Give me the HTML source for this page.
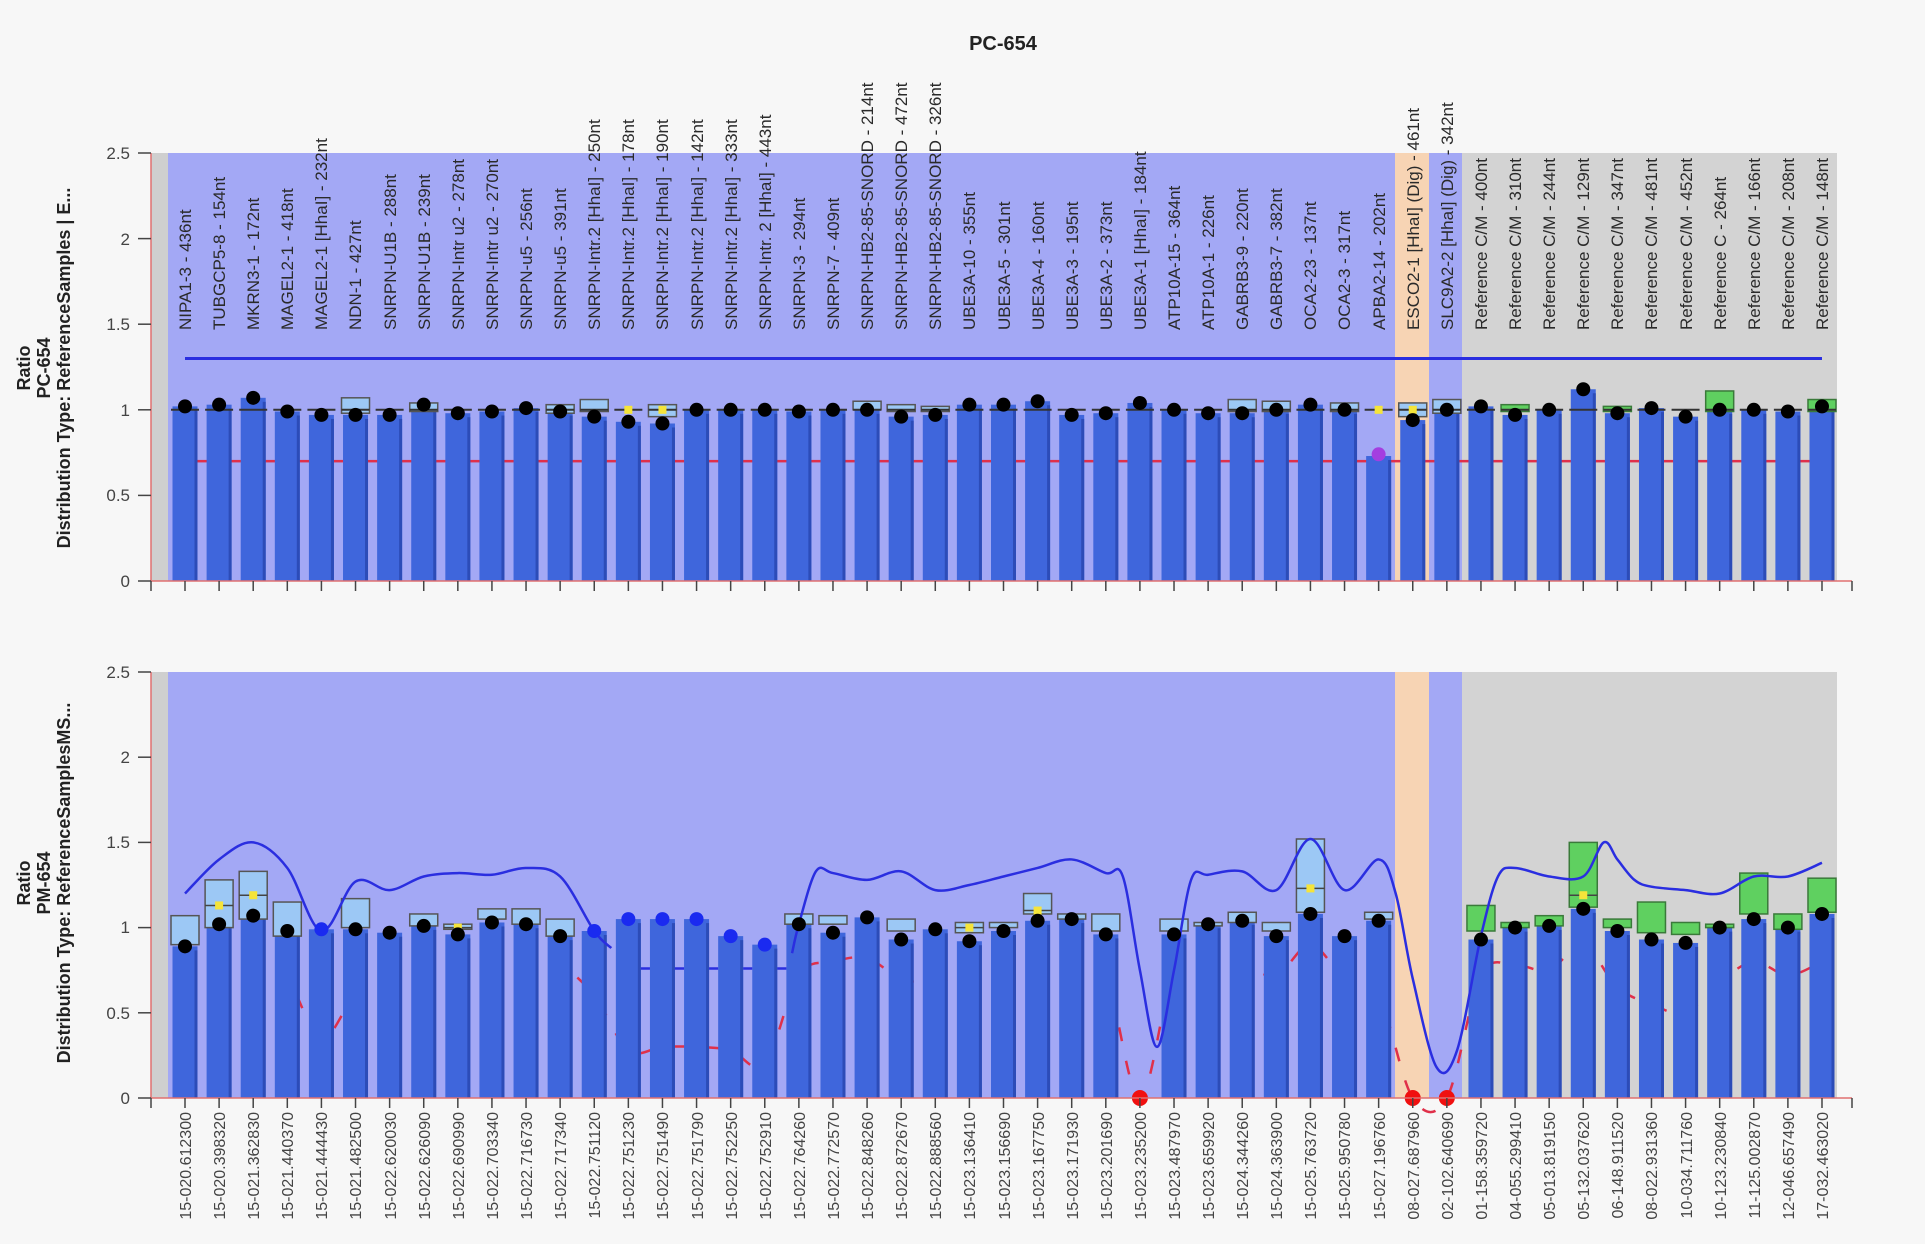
<!DOCTYPE html>
<html><head><meta charset="utf-8"><style>
html,body{margin:0;padding:0;background:#f7f7f7;}
svg{display:block;font-family:"Liberation Sans",sans-serif;}
.tl{font-size:17px;fill:#2a2a2a;}
.bl{font-size:16px;fill:#444;}
.tk{font-size:17px;fill:#444;}
.ax{font-size:18px;font-weight:bold;fill:#222;}
</style></head><body>
<svg id="s" width="1925" height="1244" viewBox="0 0 1925 1244" xmlns="http://www.w3.org/2000/svg">
<rect width="1925" height="1244" fill="#f7f7f7"/>
<g id="shapes"></g>
<text x="1003" y="50" text-anchor="middle" style="font-size:20px;font-weight:bold;fill:#222">PC-654</text>
<g transform="translate(30,368) rotate(-90)"><text class="ax" text-anchor="middle" y="0">Ratio</text></g>
<g transform="translate(50,368) rotate(-90)"><text class="ax" text-anchor="middle" y="0">PC-654</text></g>
<g transform="translate(70,368) rotate(-90)"><text class="ax" text-anchor="middle" y="0">Distribution  Type:  ReferenceSamples | E...</text></g>
<g transform="translate(30,883) rotate(-90)"><text class="ax" text-anchor="middle" y="0">Ratio</text></g>
<g transform="translate(50,883) rotate(-90)"><text class="ax" text-anchor="middle" y="0">PM-654</text></g>
<g transform="translate(70,883) rotate(-90)"><text class="ax" text-anchor="middle" y="0">Distribution  Type:  ReferenceSamplesMS...</text></g>
<g class="tk" text-anchor="end">
<text x="130" y="159">2.5</text><text x="130" y="245">2</text><text x="130" y="330">1.5</text><text x="130" y="416">1</text><text x="130" y="501">0.5</text><text x="130" y="587">0</text>
<text x="130" y="678">2.5</text><text x="130" y="763">2</text><text x="130" y="848">1.5</text><text x="130" y="933">1</text><text x="130" y="1019">0.5</text><text x="130" y="1104">0</text>
</g>
<g class="tl">
<text transform="translate(191,330) rotate(-90)">NIPA1-3 - 436nt</text>
<text transform="translate(225,330) rotate(-90)">TUBGCP5-8 - 154nt</text>
<text transform="translate(259,330) rotate(-90)">MKRN3-1 - 172nt</text>
<text transform="translate(293,330) rotate(-90)">MAGEL2-1 - 418nt</text>
<text transform="translate(327,330) rotate(-90)">MAGEL2-1 [HhaI] - 232nt</text>
<text transform="translate(361,330) rotate(-90)">NDN-1 - 427nt</text>
<text transform="translate(396,330) rotate(-90)">SNRPN-U1B - 288nt</text>
<text transform="translate(430,330) rotate(-90)">SNRPN-U1B - 239nt</text>
<text transform="translate(464,330) rotate(-90)">SNRPN-Intr u2 - 278nt</text>
<text transform="translate(498,330) rotate(-90)">SNRPN-Intr u2 - 270nt</text>
<text transform="translate(532,330) rotate(-90)">SNRPN-u5 - 256nt</text>
<text transform="translate(566,330) rotate(-90)">SNRPN-u5 - 391nt</text>
<text transform="translate(600,330) rotate(-90)">SNRPN-Intr.2 [HhaI] - 250nt</text>
<text transform="translate(634,330) rotate(-90)">SNRPN-Intr.2 [HhaI] - 178nt</text>
<text transform="translate(668,330) rotate(-90)">SNRPN-Intr.2 [HhaI] - 190nt</text>
<text transform="translate(703,330) rotate(-90)">SNRPN-Intr.2 [HhaI] - 142nt</text>
<text transform="translate(737,330) rotate(-90)">SNRPN-Intr.2 [HhaI] - 333nt</text>
<text transform="translate(771,330) rotate(-90)">SNRPN-Intr. 2 [HhaI] - 443nt</text>
<text transform="translate(805,330) rotate(-90)">SNRPN-3 - 294nt</text>
<text transform="translate(839,330) rotate(-90)">SNRPN-7 - 409nt</text>
<text transform="translate(873,330) rotate(-90)">SNRPN-HB2-85-SNORD - 214nt</text>
<text transform="translate(907,330) rotate(-90)">SNRPN-HB2-85-SNORD - 472nt</text>
<text transform="translate(941,330) rotate(-90)">SNRPN-HB2-85-SNORD - 326nt</text>
<text transform="translate(975,330) rotate(-90)">UBE3A-10 - 355nt</text>
<text transform="translate(1010,330) rotate(-90)">UBE3A-5 - 301nt</text>
<text transform="translate(1044,330) rotate(-90)">UBE3A-4 - 160nt</text>
<text transform="translate(1078,330) rotate(-90)">UBE3A-3 - 195nt</text>
<text transform="translate(1112,330) rotate(-90)">UBE3A-2 - 373nt</text>
<text transform="translate(1146,330) rotate(-90)">UBE3A-1 [HhaI] - 184nt</text>
<text transform="translate(1180,330) rotate(-90)">ATP10A-15 - 364nt</text>
<text transform="translate(1214,330) rotate(-90)">ATP10A-1 - 226nt</text>
<text transform="translate(1248,330) rotate(-90)">GABRB3-9 - 220nt</text>
<text transform="translate(1282,330) rotate(-90)">GABRB3-7 - 382nt</text>
<text transform="translate(1316,330) rotate(-90)">OCA2-23 - 137nt</text>
<text transform="translate(1350,330) rotate(-90)">OCA2-3 - 317nt</text>
<text transform="translate(1385,330) rotate(-90)">APBA2-14 - 202nt</text>
<text transform="translate(1419,330) rotate(-90)">ESCO2-1 [HhaI] (Dig) - 461nt</text>
<text transform="translate(1453,330) rotate(-90)">SLC9A2-2 [HhaI] (Dig) - 342nt</text>
<text transform="translate(1487,330) rotate(-90)">Reference C/M - 400nt</text>
<text transform="translate(1521,330) rotate(-90)">Reference C/M - 310nt</text>
<text transform="translate(1555,330) rotate(-90)">Reference C/M - 244nt</text>
<text transform="translate(1589,330) rotate(-90)">Reference C/M - 129nt</text>
<text transform="translate(1623,330) rotate(-90)">Reference C/M - 347nt</text>
<text transform="translate(1657,330) rotate(-90)">Reference C/M - 481nt</text>
<text transform="translate(1692,330) rotate(-90)">Reference C/M - 452nt</text>
<text transform="translate(1726,330) rotate(-90)">Reference C - 264nt</text>
<text transform="translate(1760,330) rotate(-90)">Reference C/M - 166nt</text>
<text transform="translate(1794,330) rotate(-90)">Reference C/M - 208nt</text>
<text transform="translate(1828,330) rotate(-90)">Reference C/M - 148nt</text>
</g>
<g class="bl" text-anchor="end">
<text transform="translate(191,1112) rotate(-90)">15-020.612300</text>
<text transform="translate(225,1112) rotate(-90)">15-020.398320</text>
<text transform="translate(259,1112) rotate(-90)">15-021.362830</text>
<text transform="translate(293,1112) rotate(-90)">15-021.440370</text>
<text transform="translate(327,1112) rotate(-90)">15-021.444430</text>
<text transform="translate(361,1112) rotate(-90)">15-021.482500</text>
<text transform="translate(396,1112) rotate(-90)">15-022.620030</text>
<text transform="translate(430,1112) rotate(-90)">15-022.626090</text>
<text transform="translate(464,1112) rotate(-90)">15-022.690990</text>
<text transform="translate(498,1112) rotate(-90)">15-022.703340</text>
<text transform="translate(532,1112) rotate(-90)">15-022.716730</text>
<text transform="translate(566,1112) rotate(-90)">15-022.717340</text>
<text transform="translate(600,1112) rotate(-90)">15-022.751120</text>
<text transform="translate(634,1112) rotate(-90)">15-022.751230</text>
<text transform="translate(668,1112) rotate(-90)">15-022.751490</text>
<text transform="translate(703,1112) rotate(-90)">15-022.751790</text>
<text transform="translate(737,1112) rotate(-90)">15-022.752250</text>
<text transform="translate(771,1112) rotate(-90)">15-022.752910</text>
<text transform="translate(805,1112) rotate(-90)">15-022.764260</text>
<text transform="translate(839,1112) rotate(-90)">15-022.772570</text>
<text transform="translate(873,1112) rotate(-90)">15-022.848260</text>
<text transform="translate(907,1112) rotate(-90)">15-022.872670</text>
<text transform="translate(941,1112) rotate(-90)">15-022.888560</text>
<text transform="translate(975,1112) rotate(-90)">15-023.136410</text>
<text transform="translate(1010,1112) rotate(-90)">15-023.156690</text>
<text transform="translate(1044,1112) rotate(-90)">15-023.167750</text>
<text transform="translate(1078,1112) rotate(-90)">15-023.171930</text>
<text transform="translate(1112,1112) rotate(-90)">15-023.201690</text>
<text transform="translate(1146,1112) rotate(-90)">15-023.235200</text>
<text transform="translate(1180,1112) rotate(-90)">15-023.487970</text>
<text transform="translate(1214,1112) rotate(-90)">15-023.659920</text>
<text transform="translate(1248,1112) rotate(-90)">15-024.344260</text>
<text transform="translate(1282,1112) rotate(-90)">15-024.363900</text>
<text transform="translate(1316,1112) rotate(-90)">15-025.763720</text>
<text transform="translate(1350,1112) rotate(-90)">15-025.950780</text>
<text transform="translate(1385,1112) rotate(-90)">15-027.196760</text>
<text transform="translate(1419,1112) rotate(-90)">08-027.687960</text>
<text transform="translate(1453,1112) rotate(-90)">02-102.640690</text>
<text transform="translate(1487,1112) rotate(-90)">01-158.359720</text>
<text transform="translate(1521,1112) rotate(-90)">04-055.299410</text>
<text transform="translate(1555,1112) rotate(-90)">05-013.819150</text>
<text transform="translate(1589,1112) rotate(-90)">05-132.037620</text>
<text transform="translate(1623,1112) rotate(-90)">06-148.911520</text>
<text transform="translate(1657,1112) rotate(-90)">08-022.931360</text>
<text transform="translate(1692,1112) rotate(-90)">10-034.711760</text>
<text transform="translate(1726,1112) rotate(-90)">10-123.230840</text>
<text transform="translate(1760,1112) rotate(-90)">11-125.002870</text>
<text transform="translate(1794,1112) rotate(-90)">12-046.657490</text>
<text transform="translate(1828,1112) rotate(-90)">17-032.463020</text>
</g>
</svg>
<script>
(function(){
var NS="http://www.w3.org/2000/svg",G=document.getElementById("shapes");
function el(t,a){var e=document.createElementNS(NS,t);for(var k in a)e.setAttribute(k,a[k]);G.appendChild(e);return e;}
function X(i){return 185+34.104*i;}
var W=25;
var P=[{y0:581,s:171.2,top:153},{y0:1098,s:170.4,top:672}];
P.forEach(function(p){
 el("rect",{x:151,y:p.top,width:17,height:p.y0-p.top,fill:"#cfcfcf"});
 el("rect",{x:168,y:p.top,width:1227,height:p.y0-p.top,fill:"#a3a8f5"});
 el("rect",{x:1395,y:p.top,width:34,height:p.y0-p.top,fill:"#f7d4b4"});
 el("rect",{x:1429,y:p.top,width:33,height:p.y0-p.top,fill:"#a3a8f5"});
 el("rect",{x:1462,y:p.top,width:375,height:p.y0-p.top,fill:"#d3d3d3"});
});
function catmull(pts){var d="M"+pts[0][0]+","+pts[0][1];for(var i=0;i<pts.length-1;i++){var p0=pts[i-1]||pts[i],p1=pts[i],p2=pts[i+1],p3=pts[i+2]||p2;
 d+=" C"+(p1[0]+(p2[0]-p0[0])/6)+","+(p1[1]+(p2[1]-p0[1])/6)+" "+(p2[0]-(p3[0]-p1[0])/6)+","+(p2[1]-(p3[1]-p1[1])/6)+" "+p2[0]+","+p2[1];}return d;}
var tp=P[0];function YT(v){return tp.y0-v*tp.s;}
var td=[1.02,1.03,1.07,0.99,0.97,0.97,0.97,1.03,0.98,0.99,1.01,0.99,0.96,0.93,0.92,1.0,1.0,1.0,0.99,1.0,1.0,0.96,0.97,1.03,1.03,1.05,0.97,0.98,1.04,1.0,0.98,0.98,1.0,1.03,1.0,0.74,0.94,1.0,1.02,0.97,1.0,1.12,0.98,1.01,0.96,1.0,1.0,0.99,1.02];
var tbox={5:[0.98,1.07],7:[0.99,1.04],11:[0.98,1.03],12:[0.99,1.06],14:[0.96,1.03],20:[1.0,1.05],21:[0.99,1.03],22:[0.99,1.02],32:[0.99,1.05],31:[0.99,1.06],34:[0.99,1.04],36:[0.96,1.04],37:[0.98,1.06]};
var tgreen={39:[0.99,1.03],42:[0.99,1.02],45:[0.99,1.11],48:[0.99,1.06]};
for(var i=0;i<48;i++){var gx=X(i)+17.05;el("line",{x1:gx-5,y1:YT(0.7),x2:gx+5,y2:YT(0.7),stroke:"#e0304a","stroke-width":2.5});}
for(var i=0;i<49;i++){var v=(i==35?0.73:td[i]);
 el("rect",{x:X(i)-W/2,y:YT(v),width:W,height:YT(0)-YT(v),fill:"#3f66dc"});
 el("rect",{x:X(i)+W/2-3,y:YT(v)+4,width:3,height:YT(0)-YT(v)-4,fill:"#2c4cb8"});}
for(var k in tbox){var b=tbox[k];el("rect",{x:X(+k)-14,y:YT(b[1]),width:28,height:YT(b[0])-YT(b[1]),fill:"#9cc8f5",stroke:"#555","stroke-width":1.5});}
for(var k in tgreen){var b=tgreen[k];el("rect",{x:X(+k)-14,y:YT(b[1]),width:28,height:YT(b[0])-YT(b[1]),fill:"#5fd060",stroke:"#3a7a3a","stroke-width":1.5});}
for(var i=0;i<49;i++){el("line",{x1:X(i)-14,y1:YT(1.0),x2:X(i)+14,y2:YT(1.0),stroke:"#333","stroke-width":2});}
el("line",{x1:X(0),y1:YT(1.3),x2:X(48),y2:YT(1.3),stroke:"#2a2ee0","stroke-width":3});
[13,14,35,36].forEach(function(i){el("rect",{x:X(i)-4,y:YT(1.0)-4,width:8,height:8,fill:"#f5e43a"});});
for(var i=0;i<49;i++){ if(i==35) el("circle",{cx:X(i),cy:YT(0.74),r:7,fill:"#a43ee0"}); else el("circle",{cx:X(i),cy:YT(td[i]),r:7,fill:"#000"});}
var bp=P[1];function YB(v){return bp.y0-v*bp.s;}
var bd=[0.89,1.02,1.07,0.98,0.99,0.99,0.97,1.01,0.96,1.03,1.02,0.95,0.98,1.05,1.05,1.05,0.95,0.9,1.02,0.97,1.06,0.93,0.99,0.92,0.98,1.04,1.05,0.96,0,0.96,1.02,1.04,0.95,1.08,0.95,1.04,0,0,0.93,1.0,1.01,1.11,0.98,0.93,0.91,1.0,1.05,1.0,1.08];
var bluedot={4:1,12:1,13:1,14:1,15:1,16:1,17:1};
var bbox={0:[0.9,1.07],1:[1.0,1.28],2:[1.05,1.33],3:[0.95,1.15],5:[1.0,1.17],7:[1.01,1.08],8:[0.99,1.02],9:[1.05,1.11],10:[1.02,1.11],11:[0.95,1.05],19:[1.02,1.07],18:[1.02,1.08],21:[0.98,1.05],23:[0.97,1.03],24:[1.0,1.03],25:[1.08,1.2],26:[1.05,1.08],27:[0.98,1.08],29:[0.98,1.05],30:[1.01,1.03],31:[1.03,1.09],32:[0.98,1.03],33:[1.09,1.52],35:[1.05,1.09]};
var bgreen={38:[0.98,1.13],39:[1.0,1.03],40:[1.01,1.07],41:[1.12,1.5],42:[1.0,1.05],43:[0.97,1.15],44:[0.96,1.03],45:[1.0,1.02],46:[1.08,1.32],47:[0.99,1.08],48:[1.09,1.29]};
var yel={1:1.13,2:1.19,8:1.0,23:1.0,25:1.1,33:1.23,41:1.19};
var rv=[0.74,0.85,0.85,0.7,0.35,0.6,0.65,0.75,0.78,0.8,0.82,0.78,0.6,0.28,0.3,0.3,0.28,0.2,0.72,0.8,0.82,0.7,0.68,0.74,0.8,0.85,0.82,0.72,0,0.75,0.8,0.78,0.72,0.9,0.7,0.6,0,0,0.72,0.78,0.75,0.9,0.65,0.55,0.5,0.68,0.8,0.72,0.8];
var rp=[];for(var i=0;i<49;i++)rp.push([X(i),YB(rv[i])]);
el("path",{d:catmull(rp),fill:"none",stroke:"#e0304a","stroke-width":2.5,"stroke-dasharray":"14,20"});
for(var i=0;i<49;i++){var v=bd[i];if(v<=0)continue;
 el("rect",{x:X(i)-W/2,y:YB(v),width:W,height:YB(0)-YB(v),fill:"#3f66dc"});
 el("rect",{x:X(i)+W/2-3,y:YB(v)+4,width:3,height:YB(0)-YB(v)-4,fill:"#2c4cb8"});}
for(var k in bbox){var b=bbox[k];el("rect",{x:X(+k)-14,y:YB(b[1]),width:28,height:YB(b[0])-YB(b[1]),fill:"#9cc8f5",stroke:"#555","stroke-width":1.5});}
for(var k in bgreen){var b=bgreen[k];el("rect",{x:X(+k)-14,y:YB(b[1]),width:28,height:YB(b[0])-YB(b[1]),fill:"#5fd060",stroke:"#3a7a3a","stroke-width":1.5});}
for(var k in yel){el("line",{x1:X(+k)-14,y1:YB(yel[k]),x2:X(+k)+14,y2:YB(yel[k]),stroke:"#444","stroke-width":1.5});el("rect",{x:X(+k)-4,y:YB(yel[k])-4,width:8,height:8,fill:"#f5e43a"});}
var bl=[[0,1.2],[1,1.4],[2,1.5],[3,1.35],[4,0.98],[5,1.27],[6,1.22],[7,1.3],[8,1.32],[9,1.31],[10,1.35],[11,1.3],[12,0.98],[12.5,0.88]];
var bl2=[[17.8,0.85],[18,1.02],[18.5,1.33],[19,1.32],[20,1.28],[21,1.33],[22,1.22],[23,1.25],[24,1.3],[25,1.35],[26,1.4],[27,1.32],[27.5,1.3],[28,0.75],[28.5,0.3],[29,0.75],[29.5,1.28],[30,1.31],[31,1.33],[32,1.22],[33,1.52],[34,1.22],[35,1.4],[35.5,1.2],[36,0.7],[36.7,0.18],[37.3,0.28],[38,0.95],[38.5,1.3],[39,1.35],[40,1.3],[41,1.3],[41.6,1.5],[42,1.4],[42.5,1.28],[43,1.24],[44,1.22],[45,1.2],[46,1.3],[47,1.3],[48,1.38]];
function toP(a){return a.map(function(q){return [X(q[0]),YB(q[1])];});}
el("path",{d:catmull(toP(bl)),fill:"none",stroke:"#2a2ee0","stroke-width":2.5});
el("path",{d:catmull(toP(bl2)),fill:"none",stroke:"#2a2ee0","stroke-width":2.5});
for(var i=13;i<18;i++){el("line",{x1:X(i)+W/2,y1:YB(0.76),x2:X(i+1)-W/2,y2:YB(0.76),stroke:"#2a2ee0","stroke-width":2.5});}
for(var i=0;i<49;i++){var v=bd[i];
 if(v<=0) el("circle",{cx:X(i),cy:YB(0),r:8,fill:"#f01010"});
 else el("circle",{cx:X(i),cy:YB(v),r:7,fill:bluedot[i]?"#1a2af0":"#000"});}
P.forEach(function(p){
 el("line",{x1:151,y1:p.top,x2:151,y2:p.y0,stroke:"#e07070","stroke-width":1.5});
 el("line",{x1:151,y1:p.y0,x2:1852,y2:p.y0,stroke:"#e07070","stroke-width":1.5});
 el("line",{x1:151,y1:p.y0,x2:151,y2:p.y0+10,stroke:"#444","stroke-width":1.5});
 el("line",{x1:1852,y1:p.y0,x2:1852,y2:p.y0+10,stroke:"#444","stroke-width":1.5});
 for(var t=0;t<=5;t++){var y=p.y0-t*0.5*p.s;el("line",{x1:138,y1:y,x2:151,y2:y,stroke:"#444","stroke-width":1.5});}
 for(var i=0;i<49;i++)el("line",{x1:X(i),y1:p.y0,x2:X(i),y2:p.y0+10,stroke:"#444","stroke-width":1.5});
});
})();
</script>
</body></html>
